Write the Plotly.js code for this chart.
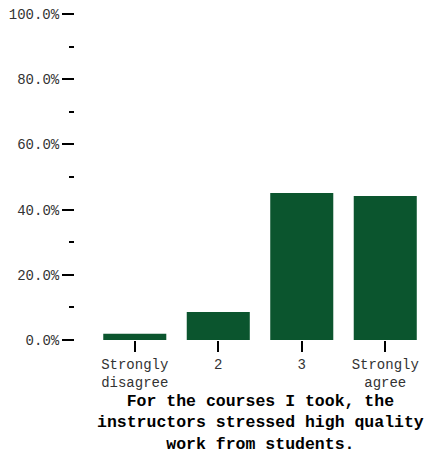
<!DOCTYPE html>
<html><head><meta charset="utf-8">
<script src="https://cdn.plot.ly/plotly-3.0.1.min.js"></script>
<style>html,body{margin:0;padding:0;background:#fff}#chart{width:446px;height:454px}</style>
</head><body><div id="chart"></div>
<script>
const categories = ["Strongly<br>disagree", "2", "3", "Strongly<br>agree"];
const percents = [1.9, 8.6, 45.1, 44.2];
const yTickVals = [0, 20, 40, 60, 80, 100];
const yTickText = ["0.0%", "20.0%", "40.0%", "60.0%", "80.0%", "100.0%"];
const titleText = "For the courses I took, the<br>instructors stressed high quality<br>work from students.";

const font = "'Courier New', 'Liberation Mono', monospace";
Plotly.newPlot("chart", [{
  type: "bar", x: categories, y: percents,
  marker: {color: "#0b552e"}, hoverinfo: "none"
}], {
  width: 446, height: 454,
  margin: {l: 75, r: 19, t: 14, b: 114},
  paper_bgcolor: "#fff", plot_bgcolor: "#fff",
  bargap: 0.245,
  font: {family: font, color: "#333", size: 14},
  xaxis: {
    type: "category", range: [-0.716, 3.5],
    showline: false, showgrid: false, zeroline: false,
    ticks: "outside", ticklen: 11, tickwidth: 2, tickcolor: "#000",
    tickfont: {family: font, size: 14, color: "#333"}
  },
  yaxis: {
    range: [0, 100], showline: false, showgrid: false, zeroline: false,
    tickvals: yTickVals, ticktext: yTickText,
    ticks: "outside", ticklen: 12, tickwidth: 2, tickcolor: "#000",
    minor: {tickvals: [10, 30, 50, 70, 90], ticks: "outside", ticklen: 5, tickwidth: 2, tickcolor: "#000"},
    tickfont: {family: font, size: 14, color: "#333"}
  },
  annotations: [{
    text: titleText, xref: "x", x: 1.5, yref: "paper", y: -0.2545,
    xanchor: "center", yanchor: "middle", showarrow: false, align: "center", borderpad: 0,
    font: {family: font, size: 16.5, color: "#000", weight: "bold"}
  }],
  showlegend: false
}, {displayModeBar: false, staticPlot: true});
</script></body></html>
